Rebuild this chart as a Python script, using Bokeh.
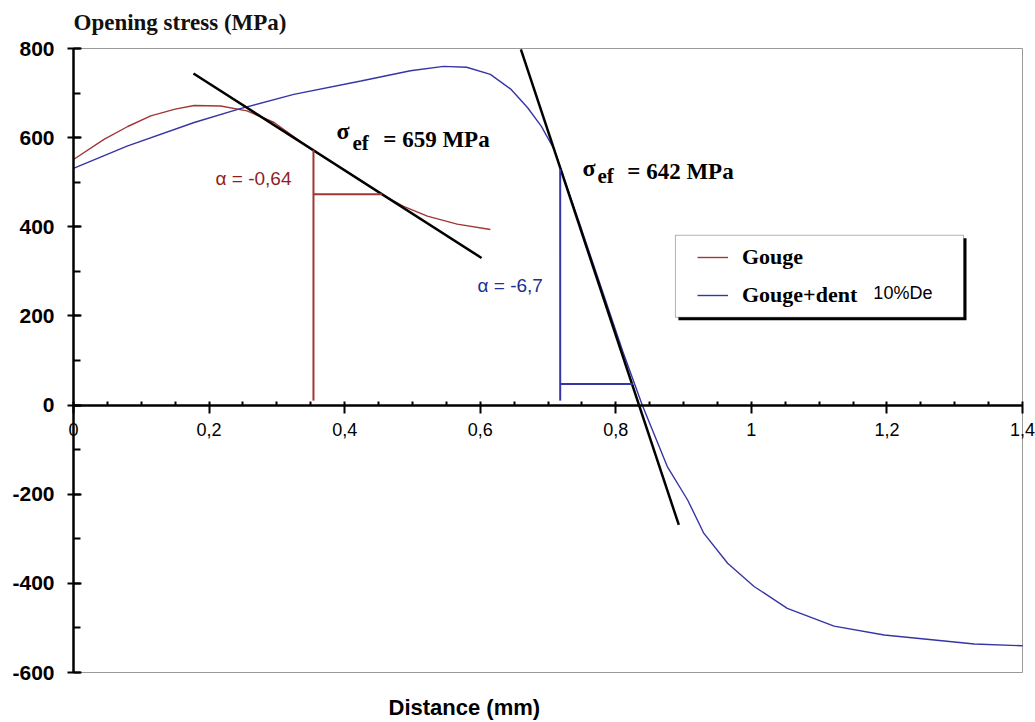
from bokeh.plotting import figure
from bokeh.models import (Label, Legend, LegendItem, BoxAnnotation, SingleIntervalTicker,
                          FixedTicker, Range1d)
from bokeh.embed import file_html
from bokeh.resources import INLINE

# ---------------- data ----------------
gouge_x = [0.0, 0.045, 0.08, 0.114, 0.15, 0.178, 0.217, 0.256, 0.296, 0.35, 0.40, 0.455, 0.487, 0.522, 0.566, 0.615]
gouge_y = [551, 596, 625, 649, 664, 672, 671, 660, 634, 575, 527, 472, 446, 424, 406, 394]

dent_x = [0.0, 0.079, 0.178, 0.246, 0.325, 0.424, 0.497, 0.546, 0.58, 0.615, 0.645, 0.67, 0.69, 0.709, 0.719,
          0.75, 0.78, 0.81, 0.839, 0.876, 0.906, 0.93, 0.965, 1.004, 1.053, 1.122, 1.196, 1.27, 1.329, 1.4]
dent_y = [531, 581, 634, 665, 697, 727, 750, 760, 758, 742, 709, 667, 626, 574, 529,
          392, 257, 122, 0, -138, -213, -288, -355, -407, -456, -496, -516, -527, -536, -540]

tangent1_x = [0.177, 0.602]
tangent1_y = [744, 330]
tangent2_x = [0.66, 0.893]
tangent2_y = [798, -269]

# slope triangles (x0, y0, x1, y1)
tri1_x0 = [0.354, 0.354]; tri1_y0 = [10, 473]; tri1_x1 = [0.354, 0.455]; tri1_y1 = [572, 473]
tri2_x0 = [0.718, 0.718]; tri2_y0 = [10, 47]; tri2_x1 = [0.718, 0.825]; tri2_y1 = [529, 47]

x_major = [0, 0.2, 0.4, 0.6, 0.8, 1, 1.2, 1.4]
x_labels = ["0", "0,2", "0,4", "0,6", "0,8", "1", "1,2", "1,4"]
x_minor = [0.05, 0.1, 0.15, 0.25, 0.3, 0.35, 0.45, 0.5, 0.55, 0.65, 0.7, 0.75,
           0.85, 0.9, 0.95, 1.05, 1.1, 1.15, 1.25, 1.3, 1.35]
y_ticks = [-600, -400, -200, 0, 200, 400, 600, 800]

# ---------------- layout ----------------
X0, X1 = 0.0, 1.4
Y0, Y1 = -600.0, 800.0
W, H = 1035, 722
PL, PR, PT, PB = 73, 1022, 48, 672          # pixel box of the plotted area
sx = (PR - PL) / (X1 - X0)
sy = (PB - PT) / (Y1 - Y0)
x_range = Range1d(X0 - PL / sx, X1 + (W - PR) / sx)
y_range = Range1d(Y0 - (H - PB) / sy, Y1 + PT / sy)

RED = "#a33535"
BLUE = "#3535a5"
SANS = "Liberation Sans"
SERIF = "Liberation Serif"

p = figure(width=W, height=H, x_range=x_range, y_range=y_range,
           output_backend="svg", toolbar_location=None,
           min_border_left=0, min_border_right=0, min_border_top=0, min_border_bottom=0)
p.grid.visible = False
p.outline_line_color = None

# grey frame (top, right, bottom)
p.line([X0, X1, X1, X0], [Y1, Y1, Y0, Y0], line_color="#9a9a9a", line_width=1)

# y axis at x = 0
ya = p.yaxis[0]
ya.fixed_location = 0
ya.bounds = (Y0, Y1)
ya.ticker = SingleIntervalTicker(interval=200, num_minor_ticks=2)
ya.major_label_overrides = {v: str(v) for v in y_ticks}
ya.axis_line_width = 2.5
ya.axis_line_color = "black"
ya.major_tick_line_width = 2
ya.minor_tick_line_width = 2
ya.major_tick_out = 6
ya.major_tick_in = 8
ya.minor_tick_in = 7
ya.minor_tick_out = 0
ya.major_label_standoff = 13
ya.major_label_text_font = SANS
ya.major_label_text_font_style = "bold"
ya.major_label_text_font_size = "21px"
ya.major_label_text_color = "black"

# x axis at y = 0
xa = p.xaxis[0]
xa.fixed_location = 0
xa.bounds = (X0, X1)
xa.ticker = FixedTicker(ticks=x_major, minor_ticks=x_minor)
xa.major_label_overrides = dict(zip(x_major, x_labels))
xa.axis_line_width = 2.5
xa.axis_line_color = "black"
xa.major_tick_line_width = 2
xa.minor_tick_line_width = 2
xa.major_tick_in = 4
xa.major_tick_out = 8
xa.minor_tick_in = 4
xa.minor_tick_out = 0
xa.major_label_standoff = 10
xa.major_label_text_font = SANS
xa.major_label_text_font_size = "18px"
xa.major_label_text_color = "black"

# titles
p.add_layout(Label(x=X0, y=Y1, y_offset=26, text="Opening stress (MPa)",
                   text_baseline="alphabetic", text_align="left", text_font=SERIF,
                   text_font_style="bold", text_font_size="23px", text_color="#111111"))
p.add_layout(Label(x=0.4647, y=Y0, y_offset=-35, text="Distance (mm)",
                   text_baseline="alphabetic", text_align="left", text_font=SANS,
                   text_font_style="bold", text_font_size="22px", text_color="black"))

# curves
r_g = p.line(gouge_x, gouge_y, line_color=RED, line_width=1.4)
r_d = p.line(dent_x, dent_y, line_color=BLUE, line_width=1.4)

# tangents
p.line(tangent1_x, tangent1_y, line_color="black", line_width=2.5)
p.line(tangent2_x, tangent2_y, line_color="black", line_width=2.5)

# slope triangles
p.segment(x0=tri1_x0, y0=tri1_y0, x1=tri1_x1, y1=tri1_y1, line_color=RED, line_width=2)
p.segment(x0=tri2_x0, y0=tri2_y0, x1=tri2_x1, y1=tri2_y1, line_color=BLUE, line_width=2)

# annotations
p.add_layout(Label(x=0.2095, y=509, text="\u03b1 = -0,64", text_baseline="middle",
                   text_font=SANS, text_font_size="19px", text_color="#8e1f1f"))
p.add_layout(Label(x=0.596, y=269, text="\u03b1 = -6,7", text_baseline="middle",
                   text_font=SANS, text_font_size="19px", text_color="#22308f"))

def sigma_label(xs, ys, xe, ye, xt, yt, txt):
    p.add_layout(Label(x=xs, y=ys, text="\u03c3", text_baseline="alphabetic",
                       text_font=SERIF, text_font_style="bold", text_font_size="24px",
                       text_color="black"))
    p.add_layout(Label(x=xe, y=ye, text="ef", text_baseline="alphabetic",
                       text_font=SERIF, text_font_style="bold", text_font_size="21px",
                       text_color="black"))
    p.add_layout(Label(x=xt, y=yt, text=txt, text_baseline="alphabetic",
                       text_font=SERIF, text_font_style="bold", text_font_size="23px",
                       text_color="black"))

sigma_label(0.388, 615, 0.4116, 588, 0.457, 595, "= 659 MPa")
sigma_label(0.751, 532, 0.773, 514, 0.817, 523, "= 642 MPa")

# legend box with shadow
p.add_layout(BoxAnnotation(left=0.8924, right=1.3174, top=374.3, bottom=190.3,
                           fill_color="black", fill_alpha=1, line_alpha=0))
p.add_layout(BoxAnnotation(left=0.888, right=1.313, top=381, bottom=197,
                           fill_color="white", fill_alpha=1, line_color="black", line_width=1))
legend = Legend(items=[LegendItem(label="Gouge", renderers=[r_g]),
                       LegendItem(label="Gouge+dent", renderers=[r_d])],
                location=(697, H - 308), padding=0, margin=0, spacing=12,
                glyph_width=31, glyph_height=26, label_height=26, label_standoff=14,
                border_line_alpha=0, background_fill_alpha=0,
                label_text_font=SERIF, label_text_font_style="bold",
                label_text_font_size="22px", label_text_color="black")
p.add_layout(legend)
p.add_layout(Label(x=1.18, y=252, text="10%De", text_baseline="middle",
                   text_font=SANS, text_font_size="18px", text_color="black"))

open("out.html", "w").write(file_html(p, INLINE))
